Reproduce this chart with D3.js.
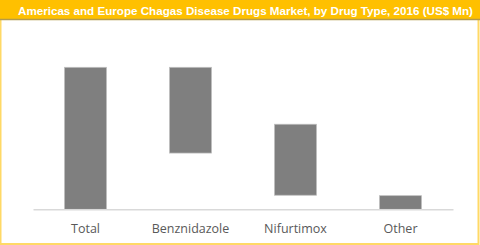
<!DOCTYPE html>
<html>
<head>
<meta charset="utf-8">
<script src="https://cdn.jsdelivr.net/npm/d3@7"></script>
<style>
  body { margin: 0; background: #fff; }
  svg { display: block; }
</style>
</head>
<body>
<div id="chart"></div>
<script>
// chart data (US$ Mn), floating bars: low/high end of each bar
var titleText = "Americas and Europe Chagas Disease Drugs Market, by Drug Type, 2016 (US$ Mn)";
var drugTypes = ["Total", "Benznidazole", "Nifurtimox", "Other"];
var barLow = [0, 3.96, 0.99, 0];
var barHigh = [10, 10, 5.99, 0.96];

var width = 480, height = 245;

var svg = d3.select("#chart")
  .append("svg")
  .attr("width", width)
  .attr("height", height);

// outer frame
svg.append("rect")
  .attr("x", 0.5)
  .attr("y", 0.5)
  .attr("width", width - 2)
  .attr("height", height - 1.5)
  .attr("fill", "#fff")
  .attr("stroke", "#ffd966")
  .attr("stroke-width", 2);

// title bar
svg.append("rect")
  .attr("x", 0)
  .attr("y", 0)
  .attr("width", width)
  .attr("height", 19)
  .attr("fill", "#ffc000");

svg.append("line")
  .attr("x1", 0)
  .attr("x2", width)
  .attr("y1", 19.5)
  .attr("y2", 19.5)
  .attr("stroke", "#b59a4a")
  .attr("stroke-width", 1.5);

svg.append("text")
  .attr("x", 18)
  .attr("y", 15)
  .attr("fill", "#fff")
  .style("font-family", "Liberation Sans, Arial, sans-serif")
  .style("font-weight", "bold")
  .style("font-size", "11.5px")
  .attr("textLength", 455)
  .attr("lengthAdjust", "spacingAndGlyphs")
  .text(titleText);

var xScale = d3.scaleBand()
  .domain(drugTypes)
  .range([33, 453])
  .paddingInner(0.6)
  .paddingOuter(0.3);

var yScale = d3.scaleLinear()
  .domain([0, 10])
  .range([209.3, 67.3]);

// bars
svg.append("g")
  .selectAll("rect")
  .data(drugTypes)
  .enter()
  .append("rect")
  .attr("x", function(d) { return xScale(d); })
  .attr("y", function(d, i) { return yScale(barHigh[i]); })
  .attr("width", xScale.bandwidth())
  .attr("height", function(d, i) { return yScale(barLow[i]) - yScale(barHigh[i]); })
  .attr("fill", "#7f7f7f")
  .attr("stroke", "#bfbfbf")
  .attr("stroke-width", 0.75);

// x axis
var xAxis = svg.append("g")
  .attr("transform", "translate(0," + yScale(0) + ")")
  .call(d3.axisBottom(xScale).tickSize(0).tickPadding(15));

xAxis.select(".domain")
  .attr("stroke", "#d9d9d9")
  .attr("stroke-width", 1.5);

xAxis.selectAll("text")
  .attr("fill", "#595959")
  .style("font-family", "Open Sans, sans-serif")
  .style("font-size", "12.5px");
</script>
</body>
</html>
